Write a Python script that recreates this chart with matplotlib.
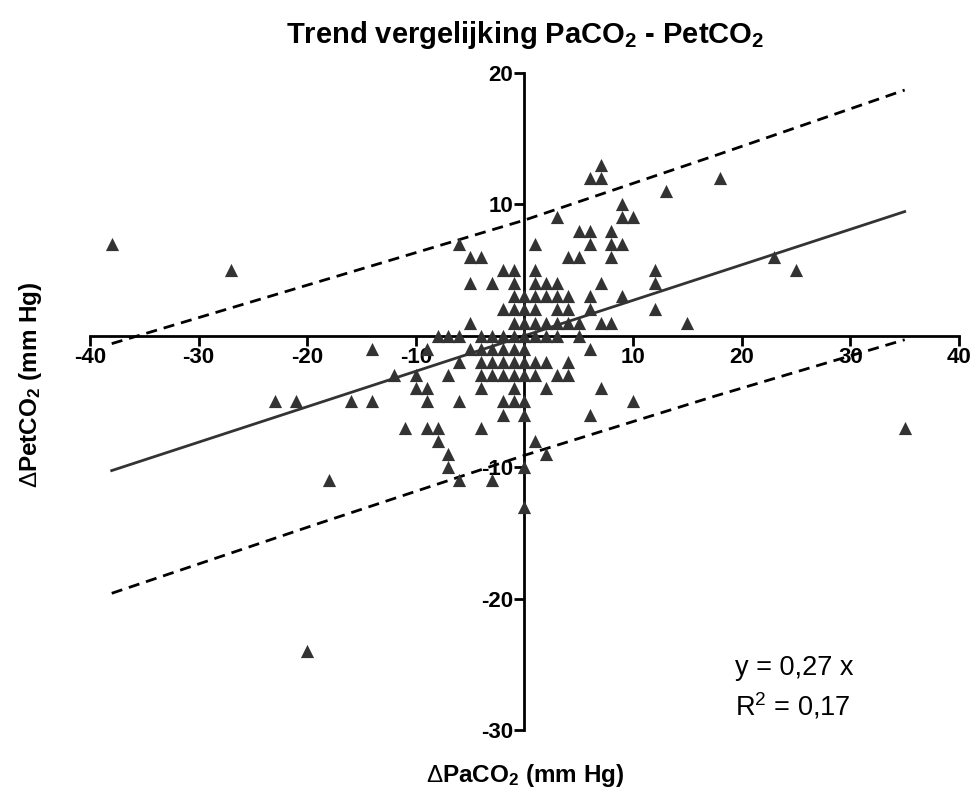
import numpy as np
import matplotlib
matplotlib.use('Agg')
import matplotlib.pyplot as plt

plt.rcParams['font.family'] = ['Liberation Sans', 'DejaVu Sans']
plt.rcParams['mathtext.fontset'] = 'custom'
plt.rcParams['mathtext.rm'] = 'Liberation Sans'
plt.rcParams['mathtext.bf'] = 'Liberation Sans:bold'
plt.rcParams['mathtext.it'] = 'Liberation Sans:italic'

# delta PaCO2 (x) and delta PetCO2 (y)
d_paco2 = [-38, -27, -20, -18, 35, 25, 23, 18, 13, 15, 12, 12, 12, 10, 7,
           -23, -21, -16, -14, -14, -12, -10, -11,
           7, 6, 7, 9, 3, 9, 10, 5, 6, 8,
           -6, 1, 6, 8, 9,
           -5, -4, 4, 5, 8,
           -2, -1, 1,
           -5, -3, -1, 1, 2, 3, 7,
           -1, 0, 1, 2, 3, 4, 6, 9,
           -2, -1, 0, 1, 3, 4, 6,
           -5, -1, 0, 1, 2, 3, 4, 5, 7, 8,
           -8, -7, -6, -4, -3, -2, -1, 0, 1, 2, 3, 5,
           -9, -5, -4, -3, -2, -1, 0, 6,
           -6, -4, -3, -2, -1, 0, 1, 2, 4,
           -7, -4, -3, -2, -1, 0, 1, 3, 4,
           -10, -9, -4, -1, 2,
           -9, -6, -2, -1, 0,
           -2, 0, 6,
           -9, -8, -4,
           -8, 1,
           -7, 2,
           -7, 0,
           -6, -3,
           0]
d_petco2 = [7, 5, -24, -11, -7, 5, 6, 12, 11, 1, 5, 4, 2, -5, -4,
            -5, -5, -5, -5, -1, -3, -3, -7,
            13, 12, 12, 10, 9, 9, 9, 8, 8, 8,
            7, 7, 7, 7, 7,
            6, 6, 6, 6, 6,
            5, 5, 5,
            4, 4, 4, 4, 4, 4, 4,
            3, 3, 3, 3, 3, 3, 3, 3,
            2, 2, 2, 2, 2, 2, 2,
            1, 1, 1, 1, 1, 1, 1, 1, 1, 1,
            0, 0, 0, 0, 0, 0, 0, 0, 0, 0, 0, 0,
            -1, -1, -1, -1, -1, -1, -1, -1,
            -2, -2, -2, -2, -2, -2, -2, -2, -2,
            -3, -3, -3, -3, -3, -3, -3, -3, -3,
            -4, -4, -4, -4, -4,
            -5, -5, -5, -5, -5,
            -6, -6, -6,
            -7, -7, -7,
            -8, -8,
            -9, -9,
            -10, -10,
            -11, -11,
            -13]

slope = 0.27
fit_x = [-38, 35]

# dashed prediction bands
band_x = [-38, -19, 0, 17.5, 35]
band_upper = [-0.6, 4.1, 8.8, 13.7, 18.7]
band_lower = [-19.6, -14.3, -9.1, -4.6, -0.3]

fig = plt.figure(figsize=(9.74, 7.93), dpi=100)
ax = fig.add_axes([0.0924, 0.0795, 0.8922, 0.8285])

ax.scatter(d_paco2, d_petco2, marker='^', s=90, color='#333333', linewidths=0, zorder=3)
ax.plot(fit_x, [slope * v for v in fit_x], color='#333333', lw=2, zorder=2)
ax.plot(band_x, band_upper, color='black', lw=2, ls=(0, (4, 2.5)), zorder=2)
ax.plot(band_x, band_lower, color='black', lw=2, ls=(0, (4, 2.5)), zorder=2)

ax.set_xlim(-40, 40)
ax.set_ylim(-30, 20)
ax.spines['left'].set_position(('data', 0))
ax.spines['bottom'].set_position(('data', 0))
ax.spines['top'].set_visible(False)
ax.spines['right'].set_visible(False)
ax.spines['left'].set_linewidth(2)
ax.spines['bottom'].set_linewidth(2)

xt = [-40, -30, -20, -10, 10, 20, 30, 40]
yt = [-30, -20, -10, 10, 20]
ax.set_xticks(xt)
ax.set_xticklabels([str(v) for v in xt], fontweight='bold', fontsize=16)
ax.set_yticks(yt)
ax.set_yticklabels([str(v) for v in yt], fontweight='bold', fontsize=16)
ax.tick_params(axis='both', direction='out', length=7, width=2, pad=1)

fig.text(0.539, 0.956, r'Trend vergelijking PaCO$_\mathbf{2}$ - PetCO$_\mathbf{2}$',
         ha='center', va='center', fontsize=21, fontweight='bold')
fig.text(0.539, 0.022, r'$\Delta$PaCO$_\mathbf{2}$ (mm Hg)',
         ha='center', va='center', fontsize=17.5, fontweight='bold')
fig.text(0.031, 0.515, r'$\Delta$PetCO$_\mathbf{2}$ (mm Hg)',
         ha='center', va='center', fontsize=17.5, fontweight='bold', rotation=90)

ax.text(19.4, -25.3, 'y = 0,27 x', fontsize=19.5, ha='left', va='center')
ax.text(19.4, -28.2, r'R$^2$ = 0,17', fontsize=19.5, ha='left', va='center')

fig.savefig('out.png', dpi=100)
